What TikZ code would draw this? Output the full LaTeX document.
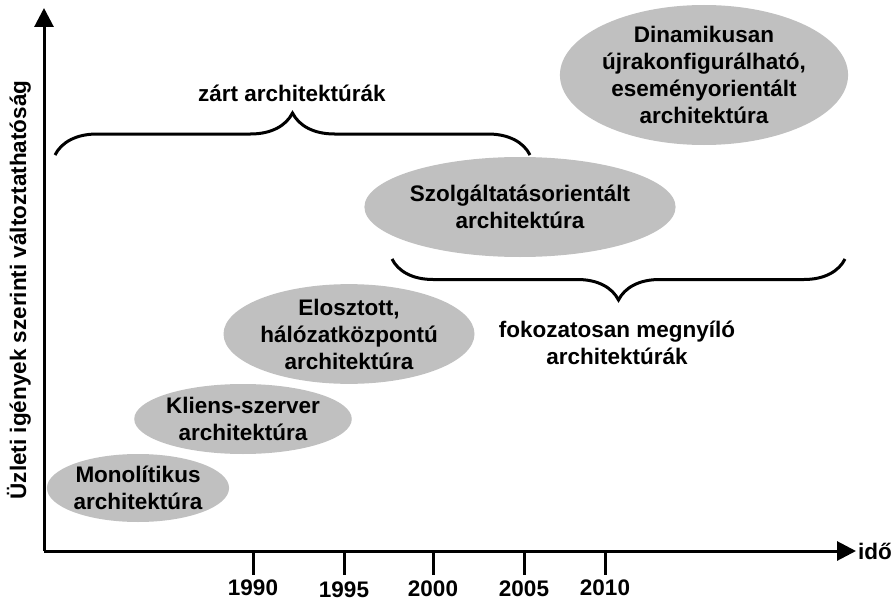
\documentclass[tikz,border=0pt]{standalone}
\usepackage{fontspec}
\setmainfont{Liberation Sans}
\usepackage{tikz}
\usetikzlibrary{shapes.geometric,arrows.meta,decorations.pathreplacing}
\definecolor{grey}{RGB}{192,192,192}
\tikzset{
  arch/.style={ellipse,fill=grey,draw=none,inner sep=0pt,align=center,
    font=\bfseries\fontsize{22.5}{27}\selectfont},
  lbl/.style={align=center,font=\bfseries\fontsize{22.5}{27}\selectfont},
  axis/.style={line width=3pt,-{Triangle[length=19pt,width=19pt]}},
  bracket/.style={line width=3pt,decorate,decoration={brace,amplitude=#1}},
}
\begin{document}
\begin{tikzpicture}[x=1pt,y=-1pt]
  \useasboundingbox (0,0) rectangle (895,602);
  % axes
  \coordinate (o) at (44,551);
  \coordinate (ytop) at (44,8);
  \coordinate (xend) at (856,551);
  \draw[axis] (o) -- (ytop);
  \draw[axis] (o) -- (xend);
  \node[lbl,anchor=west,inner sep=0pt] (ido) at (858,551) {idő};
  \node[lbl,rotate=90] (yl) at (19,290) {Üzleti igények szerinti változtathatóság};
  \foreach \xx/\yr/\dy in {253/1990/588,344/1995/590,433/2000/589,524/2005/589,605/2010/588}{
    \draw[line width=3pt] (\xx,551) -- (\xx,575);
    \node[lbl,inner sep=1pt] (y\yr) at (\xx,\dy) {\yr};
  }
  % ellipses
  \node[arch,minimum width=176pt,minimum height=68pt] (mono) at (138,488)
    {Monolítikus\\architektúra};
  \node[arch,minimum width=198pt,minimum height=70pt] (kliens) at (243,419)
    {Kliens-szerver\\architektúra};
  \node[arch,minimum width=202pt,minimum height=92pt] (eloszt) at (349,334)
    {Elosztott,\\hálózatközpontú\\architektúra};
  \node[arch,minimum width=264pt,minimum height=100pt] (szolg) at (520,207)
    {Szolgáltatásorientált\\architektúra};
  \node[arch,minimum width=265pt,minimum height=140pt] (dinam) at (704,75)
    {Dinamikusan\\újrakonfigurálható,\\eseményorientált\\architektúra};
  % braces
  \coordinate (zb1) at (55,155);
  \coordinate (zb2) at (530,155);
  \draw[bracket=42pt] (zb1) -- (zb2);
  \node[lbl] (zart) at (292,93) {zárt architektúrák};
  \coordinate (nb1) at (392,259);
  \coordinate (nb2) at (845,259);
  \draw[bracket=41pt] (nb2) -- (nb1);
  \node[lbl] (nyit) at (617,343) {fokozatosan megnyíló\\architektúrák};
\end{tikzpicture}
\end{document}
